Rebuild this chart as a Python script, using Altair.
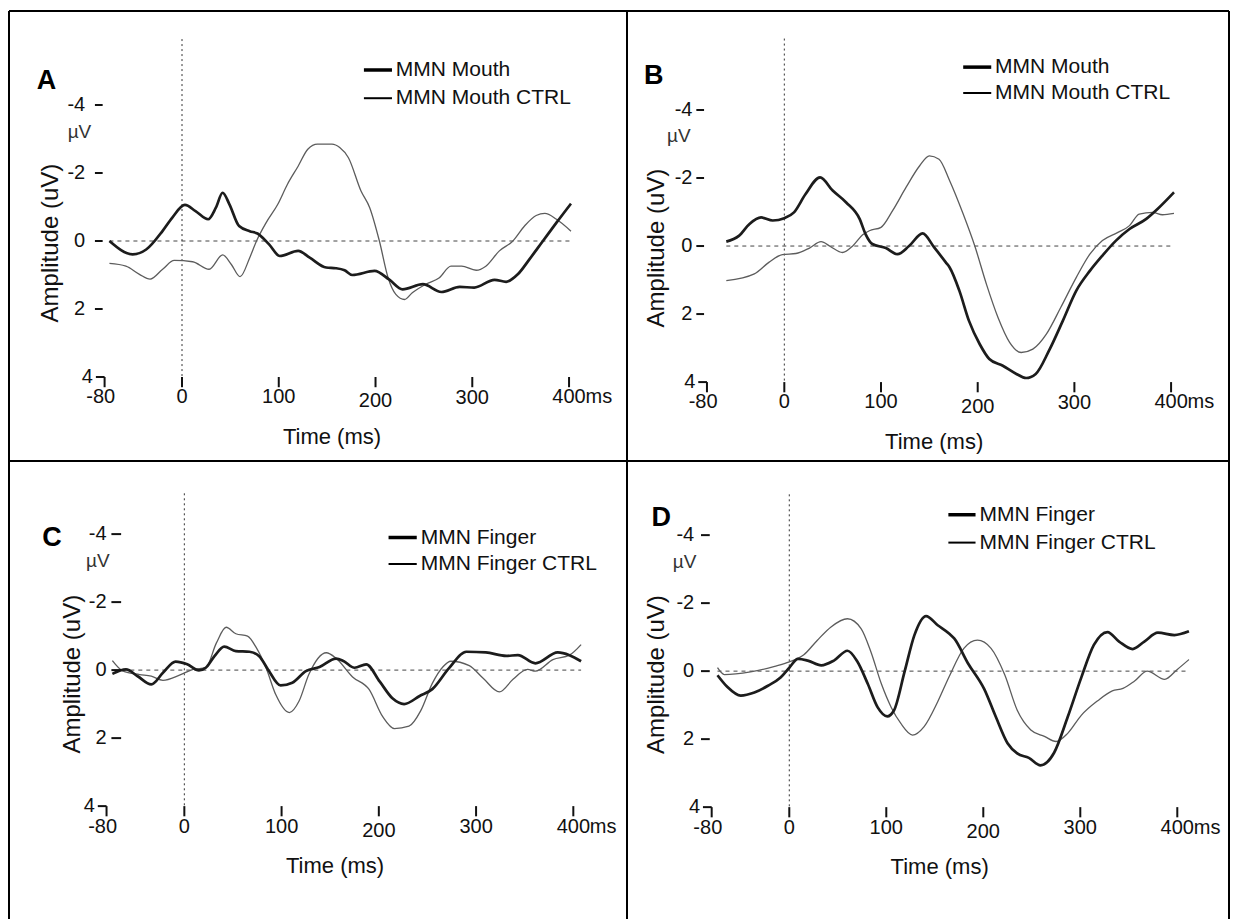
import altair as alt
import pandas as pd

# ---------------- data (time in ms, amplitude in uV) ----------------
A_mouth_t = [-75, -51, -37, -20, -10, 3, 14, 27, 35, 42, 49, 59, 70, 78, 90, 101, 120, 132, 149, 159, 168, 176, 199, 214, 228, 249, 268, 287, 302, 323, 335, 347, 359, 373, 387, 402]
A_mouth_v = [0, 0.39, 0.25, -0.3, -0.69, -1.06, -0.88, -0.64, -0.98, -1.42, -1.08, -0.44, -0.29, -0.22, 0.1, 0.44, 0.29, 0.49, 0.78, 0.80, 0.86, 1.0, 0.88, 1.13, 1.42, 1.27, 1.5, 1.35, 1.37, 1.14, 1.2, 0.98, 0.54, 0, -0.54, -1.1]
A_ctrl_t = [-75, -58, -44, -33, -20, -8, 11, 28, 42, 51, 60, 70, 77, 87, 99, 109, 120, 130, 140, 155, 163, 172, 185, 194, 204, 213, 221, 230, 238, 252, 266, 278, 289, 304, 314, 328, 342, 354, 366, 375, 387, 402]
A_ctrl_v = [0.66, 0.74, 0.98, 1.12, 0.83, 0.57, 0.61, 0.83, 0.41, 0.69, 1.05, 0.49, 0, -0.54, -1.08, -1.67, -2.2, -2.7, -2.85, -2.85, -2.75, -2.45, -1.47, -0.98, 0, 1.08, 1.57, 1.72, 1.52, 1.27, 1.08, 0.74, 0.74, 0.86, 0.74, 0.29, 0, -0.44, -0.75, -0.81, -0.64, -0.29]

B_mouth_t = [-60, -47, -36, -24, -12, 0, 10, 22, 37, 50, 64, 78, 84, 91, 105, 117, 129, 143, 155, 167, 171, 181, 191, 202, 212, 226, 240, 250, 260, 274, 288, 302, 316, 329, 343, 357, 374, 386, 403]
B_mouth_v = [-0.13, -0.3, -0.65, -0.84, -0.75, -0.82, -0.99, -1.53, -2.02, -1.63, -1.28, -0.79, -0.35, -0.06, 0.06, 0.24, 0, -0.37, 0.04, 0.48, 0.63, 1.31, 2.2, 2.88, 3.32, 3.52, 3.76, 3.88, 3.76, 3.06, 2.2, 1.31, 0.73, 0.28, -0.16, -0.5, -0.79, -1.09, -1.58]
B_ctrl_t = [-60, -31, -16, -2, 12, 26, 38, 48, 60, 71, 81, 88, 100, 112, 126, 140, 150, 160, 171, 185, 197, 209, 221, 233, 245, 257, 271, 286, 302, 316, 329, 345, 357, 367, 381, 391, 403]
B_ctrl_v = [1.02, 0.82, 0.48, 0.25, 0.22, 0.06, -0.13, 0.02, 0.19, -0.01, -0.33, -0.45, -0.55, -1.04, -1.73, -2.36, -2.65, -2.55, -1.92, -0.94, 0, 1.12, 2.1, 2.83, 3.13, 3.03, 2.59, 1.8, 0.92, 0.24, -0.16, -0.4, -0.6, -0.94, -0.99, -0.92, -0.96]

C_finger_t = [-74, -60, -48, -34, -22, -9, 3, 15, 22, 31, 41, 53, 67, 77, 86, 99, 111, 125, 139, 156, 164, 175, 187, 201, 214, 226, 242, 255, 272, 290, 310, 331, 343, 361, 384, 396, 408]
C_finger_v = [0.11, -0.02, 0.18, 0.42, 0.08, -0.25, -0.17, 0.01, -0.07, -0.41, -0.69, -0.56, -0.54, -0.41, -0.02, 0.45, 0.37, 0.03, -0.09, -0.34, -0.26, -0.07, -0.17, 0.34, 0.83, 1.0, 0.76, 0.56, -0.05, -0.54, -0.52, -0.42, -0.44, -0.2, -0.52, -0.44, -0.26]
C_ctrl_t = [-74, -63, -46, -34, -22, -5, 9, 22, 33, 43, 53, 65, 74, 84, 94, 108, 118, 128, 146, 156, 173, 190, 204, 216, 231, 243, 255, 266, 274, 293, 307, 324, 338, 353, 361, 379, 396, 408]
C_ctrl_v = [-0.28, 0.03, 0.13, 0.18, 0.3, 0.15, -0.02, -0.07, -0.8, -1.26, -1.07, -1.0, -0.66, -0.07, 0.72, 1.25, 0.91, 0.13, -0.51, -0.35, 0.2, 0.57, 1.37, 1.72, 1.65, 1.2, 0.39, -0.1, -0.26, -0.13, 0.23, 0.64, 0.27, -0.02, 0.03, -0.31, -0.44, -0.75]

D_finger_t = [-74, -64, -50, -36, -22, -9, 0, 9, 19, 33, 46, 60, 70, 81, 91, 101, 108, 119, 129, 141, 153, 165, 170, 184, 201, 213, 225, 235, 247, 259, 273, 287, 301, 314, 328, 340, 354, 366, 380, 397, 412]
D_finger_v = [0.12, 0.46, 0.72, 0.63, 0.43, 0.19, -0.1, -0.36, -0.31, -0.17, -0.31, -0.6, -0.29, 0.38, 1.06, 1.33, 1.15, 0, -1.06, -1.62, -1.35, -1.1, -0.96, -0.24, 0.53, 1.35, 2.12, 2.42, 2.55, 2.77, 2.4, 1.35, 0.19, -0.77, -1.15, -0.87, -0.65, -0.87, -1.13, -1.06, -1.17]
D_ctrl_t = [-74, -67, -40, -15, 0, 15, 29, 43, 60, 74, 84, 95, 105, 115, 127, 139, 153, 165, 180, 194, 208, 222, 235, 249, 263, 275, 287, 301, 318, 333, 344, 356, 369, 387, 400, 412]
D_ctrl_v = [-0.1, 0.1, 0.02, -0.14, -0.27, -0.48, -0.91, -1.3, -1.54, -1.25, -0.58, 0.38, 1.06, 1.54, 1.88, 1.63, 0.9, 0.15, -0.67, -0.91, -0.67, 0.1, 1.15, 1.73, 1.92, 2.07, 1.83, 1.3, 0.87, 0.58, 0.51, 0.29, 0, 0.24, -0.05, -0.34]

x_ticks = [-80, 0, 100, 200, 300, 400]
x_tick_labels = ["-80", "0", "100", "200", "300", "400"]
y_ticks = [-4, -2, 0, 2]
y_tick_labels = ["-4", "-2", "0", "2"]

FONT = "Liberation Sans, Arial, sans-serif"
INK = "#111111"
TICK_FS = 20

panels = [
    dict(letter="A", w=618, h=450, xd=[-178.8, 459.9], yd=[-6.765, 6.47],
         thick=(A_mouth_t, A_mouth_v), thin=(A_ctrl_t, A_ctrl_v),
         names=["MMN Mouth", "MMN Mouth CTRL"], zero=[-75, 402], dot_top=-5.94,
         ylab_x=-100, dash=[-90, -82], letter_pos=(-150, -4.7),
         leg_x=[188, 217], leg_text=221, leg_y=[-5.03, -4.2], mu=(-106, -3.2),
         amp=(-135, 0.06), frame=["left", "top"]),
    dict(letter="B", w=602, h=450, xd=[-162.7, 459.9], yd=[-6.91, 6.32],
         thick=(B_mouth_t, B_mouth_v), thin=(B_ctrl_t, B_ctrl_v),
         names=["MMN Mouth", "MMN Mouth CTRL"], zero=[-60, 403], dot_top=-6.1,
         ylab_x=-95, dash=[-91, -83], letter_pos=(-145, -5.0),
         leg_x=[185, 214], leg_text=218, leg_y=[-5.26, -4.5], mu=(-109, -3.24),
         amp=(-132, 0.06), frame=["left", "top", "right"]),
    dict(letter="C", w=618, h=458, xd=[-180.3, 455.2], yd=[-6.15, 7.32],
         thick=(C_finger_t, C_finger_v), thin=(C_ctrl_t, C_ctrl_v),
         names=["MMN Finger", "MMN Finger CTRL"], zero=[-72, 408], dot_top=-5.2,
         ylab_x=-80, dash=[-75, -65], letter_pos=(-146, -3.9),
         leg_x=[210, 239], leg_text=243, leg_y=[-3.9, -3.12], mu=(-89, -3.2),
         amp=(-114, 0.12), frame=["left", "top"]),
    dict(letter="D", w=602, h=458, xd=[-167.3, 453.3], yd=[-6.18, 7.29],
         thick=(D_finger_t, D_finger_v), thin=(D_ctrl_t, D_ctrl_v),
         names=["MMN Finger", "MMN Finger CTRL"], zero=[-74, 412], dot_top=-5.2,
         ylab_x=-98, dash=[-91, -82], letter_pos=(-142, -4.5),
         leg_x=[164, 192], leg_text=196, leg_y=[-4.6, -3.78], mu=(-108, -3.2),
         amp=(-136, 0.1), frame=["left", "top", "right"]),
]


def make_panel(p):
    xs = alt.Scale(domain=p["xd"], nice=False, zero=False)
    ys = alt.Scale(domain=p["yd"], nice=False, zero=False, reverse=True)
    X = lambda f: alt.X(f, type="quantitative", scale=xs, axis=None)
    Y = lambda f: alt.Y(f, type="quantitative", scale=ys, axis=None)
    layers = []

    # zero line and stimulus-onset line
    zdf = pd.DataFrame({"t": p["zero"], "v": [0, 0]})
    layers.append(alt.Chart(zdf).mark_line(color="#444444", strokeWidth=1, strokeDash=[4, 4])
                  .encode(x=X("t"), y=Y("v")))
    odf = pd.DataFrame({"t": [0], "v": [p["dot_top"]], "v2": [4.0]})
    layers.append(alt.Chart(odf).mark_rule(color="#333333", strokeWidth=1, strokeDash=[2, 3])
                  .encode(x=X("t"), y=Y("v"), y2="v2"))

    # waveforms
    thin = pd.DataFrame({"t": p["thin"][0], "v": p["thin"][1]})
    thick = pd.DataFrame({"t": p["thick"][0], "v": p["thick"][1]})
    layers.append(alt.Chart(thin).mark_line(color="#5c5c5c", strokeWidth=1.3, interpolate="monotone")
                  .encode(x=X("t"), y=Y("v")))
    layers.append(alt.Chart(thick).mark_line(color="#1c1c1c", strokeWidth=2.7, interpolate="monotone")
                  .encode(x=X("t"), y=Y("v")))

    # y ticks
    ytd = pd.DataFrame({"t": [p["dash"][0]] * len(y_ticks), "t2": [p["dash"][1]] * len(y_ticks),
                        "v": y_ticks, "lab": y_tick_labels, "lx": [p["ylab_x"]] * len(y_ticks)})
    layers.append(alt.Chart(ytd).mark_rule(color=INK, strokeWidth=2)
                  .encode(x=X("t"), x2="t2", y=Y("v")))
    layers.append(alt.Chart(ytd).mark_text(align="right", baseline="middle", font=FONT, fontSize=TICK_FS, color=INK)
                  .encode(x=X("lx"), y=Y("v"), text="lab"))
    cdf = pd.DataFrame({"t": [-89], "t2": [-80], "v": [4.0], "lx": [-92], "lab": ["4"]})
    layers.append(alt.Chart(cdf).mark_rule(color=INK, strokeWidth=2)
                  .encode(x=X("t"), x2="t2", y=Y("v")))
    layers.append(alt.Chart(cdf).mark_text(align="right", baseline="middle", font=FONT, fontSize=TICK_FS, color=INK)
                  .encode(x=X("lx"), y=Y("v"), text="lab"))

    # x ticks
    xtd = pd.DataFrame({"t": x_ticks, "v": [4.0] * 6, "v2": [4.3] * 6,
                        "lt": [-84, 0, 100, 200, 300, 400], "lv": [4.6, 4.6, 4.6, 4.72, 4.62, 4.6],
                        "lab": x_tick_labels})
    layers.append(alt.Chart(xtd).mark_rule(color=INK, strokeWidth=2)
                  .encode(x=X("t"), y=Y("v"), y2="v2"))
    layers.append(alt.Chart(xtd).mark_text(align="center", baseline="middle", font=FONT, fontSize=TICK_FS, color=INK)
                  .encode(x=X("lt"), y=Y("lv"), text="lab"))

    # other texts
    tx = pd.DataFrame({"t": [417], "v": [4.6], "lab": ["ms"]})
    layers.append(alt.Chart(tx).mark_text(align="left", baseline="middle", font=FONT, fontSize=TICK_FS, color=INK)
                  .encode(x=X("t"), y=Y("v"), text="lab"))
    tt = pd.DataFrame({"t": [155], "v": [5.75], "lab": ["Time (ms)"]})
    layers.append(alt.Chart(tt).mark_text(align="center", baseline="middle", font=FONT, fontSize=22, color=INK)
                  .encode(x=X("t"), y=Y("v"), text="lab"))
    at = pd.DataFrame({"t": [p["amp"][0]], "v": [p["amp"][1]], "lab": ["Amplitude (uV)"]})
    layers.append(alt.Chart(at).mark_text(align="center", baseline="middle", font=FONT, fontSize=24, angle=270, color=INK)
                  .encode(x=X("t"), y=Y("v"), text="lab"))
    mu = pd.DataFrame({"t": [p["mu"][0]], "v": [p["mu"][1]], "lab": ["µV"]})
    layers.append(alt.Chart(mu).mark_text(align="center", baseline="middle", font=FONT, fontSize=19, color="#333333")
                  .encode(x=X("t"), y=Y("v"), text="lab"))
    lt = pd.DataFrame({"t": [p["letter_pos"][0]], "v": [p["letter_pos"][1]], "lab": [p["letter"]]})
    layers.append(alt.Chart(lt).mark_text(align="left", baseline="middle", font=FONT, fontSize=27, fontWeight="bold", color="#000000")
                  .encode(x=X("t"), y=Y("v"), text="lab"))

    # legend
    lg = pd.DataFrame({"t": [p["leg_x"][0]] * 2, "t2": [p["leg_x"][1]] * 2, "v": p["leg_y"],
                       "tx": [p["leg_text"]] * 2, "lab": p["names"], "kind": ["thick", "thin"]})
    layers.append(alt.Chart(lg[lg.kind == "thick"]).mark_rule(color="#000000", strokeWidth=3.5)
                  .encode(x=X("t"), x2="t2", y=Y("v")))
    layers.append(alt.Chart(lg[lg.kind == "thin"]).mark_rule(color="#000000", strokeWidth=2)
                  .encode(x=X("t"), x2="t2", y=Y("v")))
    layers.append(alt.Chart(lg).mark_text(align="left", baseline="middle", font=FONT, fontSize=21, color=INK)
                  .encode(x=X("tx"), y=Y("v"), text="lab"))

    # panel frame lines
    one = pd.DataFrame({"a": [0]})
    w, h = p["w"], p["h"]
    for side in p["frame"]:
        if side == "left":
            enc = dict(x=alt.value(0), y=alt.value(0), y2=alt.value(h))
        elif side == "right":
            enc = dict(x=alt.value(w), y=alt.value(0), y2=alt.value(h))
        else:
            enc = dict(y=alt.value(0), x=alt.value(0), x2=alt.value(w))
        layers.append(alt.Chart(one).mark_rule(color="#000000", strokeWidth=2).encode(**enc))

    return alt.layer(*layers).properties(width=w, height=h)


charts = [make_panel(p) for p in panels]
chart = alt.concat(*charts, columns=2, spacing=0, bounds="flush").properties(
    padding={"left": 8, "top": 10, "right": 3, "bottom": 0},
    background="white",
).configure_view(stroke=None)

chart.save("out.html", embed_options={"renderer": "svg", "actions": False})
